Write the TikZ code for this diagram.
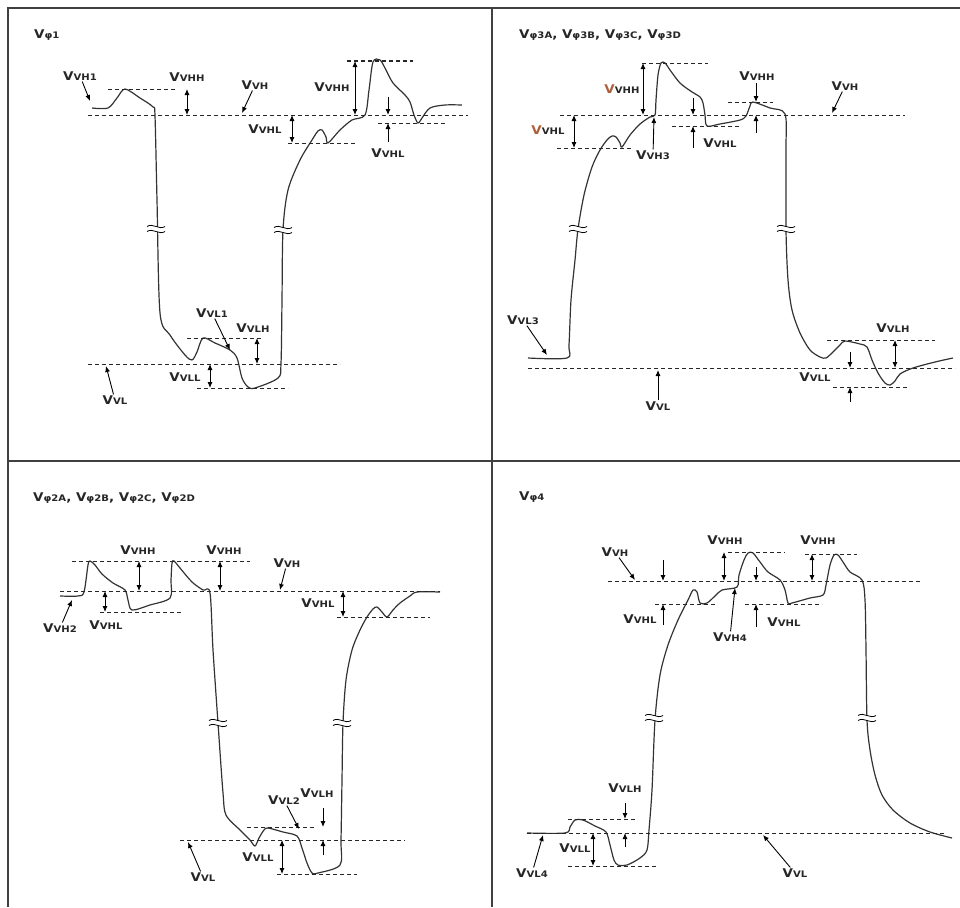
\documentclass[tikz,border=0pt]{standalone}
\usepackage{fontspec}
\setmainfont{DejaVu Sans}[FakeStretch=1.12]
\usetikzlibrary{arrows.meta}
\definecolor{brn}{RGB}{175,95,60}
\newcommand{\vsub}[1]{V{\fontsize{9}{9}\selectfont #1}}
\newcommand{\vsubb}[1]{\textcolor{brn}{V}{\fontsize{9}{9}\selectfont #1}}

\begin{document}
\begin{tikzpicture}[x=1pt,y=-1pt,
    wave/.style={line width=1.2pt,black!80,line join=round},
    lvl/.style={black!85,line width=1pt,dash pattern=on 4pt off 3pt},
    dim/.style={<->,>={Latex[length=6pt,width=5pt]},line width=0.9pt},
    ptr/.style={->,>={Latex[length=6pt,width=5pt]},line width=0.9pt},
    lab/.style={inner sep=1pt,font=\bfseries\fontsize{12}{12}\selectfont,black!85},
    ttl/.style={lab,anchor=west},
    brk/.pic={
      \fill[white] (-10,-2.5) rectangle (10,2.5);
      \draw[line width=0.8pt] (-9,-2.5) .. controls (-3,-6.5) and (3,1.5) .. (9,-2.5);
      \draw[line width=0.8pt] (-9,2.5) .. controls (-3,-1.5) and (3,6.5) .. (9,2.5);
    }]
  \useasboundingbox (0,0) rectangle (960,907);
  % frame
  \draw[line width=1.2pt,black!75] (8,907) -- (8,8) -- (960,8);
  \draw[line width=1.2pt,black!75] (492,8) -- (492,907);
  \draw[line width=1.2pt,black!75] (8,461) -- (960,461);

  % ---- V phi 1
  \node[ttl] (t1) at (33,35) {\vsub{φ1}};
  \draw[wave] plot[smooth,tension=0.5] coordinates {(92,108) (108,108) (117,98) (125,89)
    (140,98) (153,107) (155,116) (157,200) (160,313) (170,335) (185,355) (192,360)
    (197,352) (203,338) (215,343) (230,350) (237,358) (242,378) (248,387) (255,388)
    (278,378) (281,363) (282,300) (283,230) (288,190) (300,160) (312,140) (318,131)
    (322,130) (326,137) (328,143) (340,130) (352,120) (365,115) (369,90) (373,62)
    (380,60) (386,70) (393,83) (405,95) (410,102) (414,115) (418,123) (422,118)
    (430,108) (445,105) (462,105)};
  \pic at (156,229) {brk};
  \pic at (283,230) {brk};
  \draw[lvl] (108,89) -- (177,89);
  \draw[lvl] (88,115) -- (468,115);
  \draw[lvl] (288,143) -- (357,143);
  \draw[lvl] (347,61) -- (413,61);
  \draw[lvl] (378,123) -- (445,123);
  \draw[lvl] (187,338) -- (263,338);
  \draw[lvl] (88,364) -- (340,364);
  \draw[lvl] (197,388) -- (288,388);
  \draw[dim] (187,89) -- (187,115);
  \draw[dim] (292,115) -- (292,143);
  \draw[dim] (355,61) -- (355,115);
  \draw[ptr] (388,97) -- (388,115);
  \draw[ptr] (388,142) -- (388,123);
  \draw[dim] (257,338) -- (257,364);
  \draw[dim] (210,364) -- (210,388);
  \node[lab] (q1vh1) at (80,76) {\vsub{VH1}};
  \node[lab] (q1vhh) at (187,77) {\vsub{VHH}};
  \node[lab] (q1vh) at (255,85) {\vsub{VH}};
  \node[lab] (q1vhl) at (265,129) {\vsub{VHL}};
  \node[lab] (q1vhhb) at (332,87) {\vsub{VHH}};
  \node[lab] (q1vhlb) at (388,153) {\vsub{VHL}};
  \node[lab] (q1vl1) at (212,313) {\vsub{VL1}};
  \node[lab] (q1vlh) at (253,328) {\vsub{VLH}};
  \node[lab] (q1vll) at (185,377) {\vsub{VLL}};
  \node[lab] (q1vl) at (115,400) {\vsub{VL}};
  \draw[ptr] (q1vh1) -- (90,101);
  \draw[ptr] (q1vh) -- (242,113);
  \draw[ptr] (q1vl1) -- (230,350);
  \draw[ptr] (q1vl) -- (106,366);

  % ---- V phi 3
  \node[ttl] (t2) at (518,35) {\vsub{φ3A}, \vsub{φ3B}, \vsub{φ3C}, \vsub{φ3D}};
  \draw[wave] plot[smooth,tension=0.5] coordinates {(528,358) (567,358) (569,345)
    (571,300) (575,260) (578,229) (584,195) (592,167) (600,150) (607,140) (612,136)
    (616,137) (620,143) (622,147) (630,135) (640,124) (650,117) (655,115) (656,100)
    (658,75) (661,63) (665,63) (670,70) (680,83) (692,92) (700,97) (703,103) (705,115)
    (707,126) (720,124) (740,120) (746,116) (750,106) (753,102) (770,108) (785,114)
    (786,150) (786,230) (788,280) (792,310) (800,333) (810,350) (820,357) (826,358)
    (833,352) (840,345) (845,341) (860,344) (867,347) (872,360) (878,373) (885,383)
    (890,385) (895,381) (900,374) (913,368) (935,362) (953,358)};
  \pic at (578,229) {brk};
  \pic at (786,229) {brk};
  \draw[lvl] (642,63) -- (708,63);
  \draw[lvl] (560,115) -- (905,115);
  \draw[lvl] (557,148) -- (632,148);
  \draw[lvl] (672,126) -- (740,126);
  \draw[lvl] (728,102) -- (773,102);
  \draw[lvl] (827,340) -- (935,340);
  \draw[lvl] (528,368) -- (955,368);
  \draw[lvl] (833,387) -- (907,387);
  \draw[dim] (643,63) -- (643,115);
  \draw[dim] (574,115) -- (574,148);
  \draw[ptr] (693,98) -- (693,115);
  \draw[ptr] (693,148) -- (693,126);
  \draw[ptr] (756,83) -- (756,102);
  \draw[ptr] (756,133) -- (756,115);
  \draw[dim] (895,340) -- (895,368);
  \draw[ptr] (850,352) -- (850,368);
  \draw[ptr] (850,402) -- (850,387);
  \node[lab] (q2vhh) at (622,89) {\vsubb{VHH}};
  \node[lab] (q2vhl) at (548,130) {\vsubb{VHL}};
  \node[lab] (q2vh3) at (653,155) {\vsub{VH3}};
  \node[lab] (q2vhlb) at (720,143) {\vsub{VHL}};
  \node[lab] (q2vhhb) at (757,76) {\vsub{VHH}};
  \node[lab] (q2vh) at (845,86) {\vsub{VH}};
  \node[lab] (q2vl3) at (523,320) {\vsub{VL3}};
  \node[lab] (q2vl) at (658,406) {\vsub{VL}};
  \node[lab] (q2vlh) at (893,328) {\vsub{VLH}};
  \node[lab] (q2vll) at (815,377) {\vsub{VLL}};
  \draw[ptr] (q2vh3) -- (654,117);
  \draw[ptr] (q2vh) -- (832,113);
  \draw[ptr] (q2vl3) -- (547,355);
  \draw[ptr] (q2vl) -- (658,370);

  % ---- V phi 2
  \node[ttl] (t3) at (32,498) {\vsub{φ2A}, \vsub{φ2B}, \vsub{φ2C}, \vsub{φ2D}};
  \draw[wave] plot[smooth,tension=0.5] coordinates {(60,596) (78,596) (84,592) (88,565)
    (90,561) (95,565) (102,574) (113,583) (125,590) (128,600) (132,610) (150,605)
    (170,598) (171,580) (172,563) (174,561) (180,568) (192,582) (203,590) (210,593)
    (213,650) (218,723) (223,793) (226,815) (240,830) (250,840) (255,846) (259,838)
    (264,830) (268,828) (283,832) (297,836) (302,848) (307,863) (312,873) (318,873)
    (340,865) (341,840) (342,780) (343,723) (346,680) (352,650) (360,630) (367,617)
    (373,609) (377,607) (382,612) (387,617) (393,610) (400,603) (410,596) (417,592)
    (440,592)};
  \pic at (218,723) {brk};
  \pic at (342,723) {brk};
  \draw[lvl] (72,561) -- (250,561);
  \draw[lvl] (60,591) -- (440,591);
  \draw[lvl] (100,612) -- (182,612);
  \draw[lvl] (337,617) -- (430,617);
  \draw[lvl] (247,827) -- (315,827);
  \draw[lvl] (180,840) -- (405,840);
  \draw[lvl] (277,874) -- (357,874);
  \draw[dim] (139,561) -- (139,591);
  \draw[dim] (220,561) -- (220,591);
  \draw[dim] (105,591) -- (105,612);
  \draw[dim] (343,591) -- (343,617);
  \draw[ptr] (323,808) -- (323,827);
  \draw[ptr] (323,855) -- (323,840);
  \draw[dim] (282,840) -- (282,874);
  \node[lab] (q3vhha) at (138,550) {\vsub{VHH}};
  \node[lab] (q3vhhb) at (224,550) {\vsub{VHH}};
  \node[lab] (q3vh) at (287,563) {\vsub{VH}};
  \node[lab] (q3vhl) at (106,625) {\vsub{VHL}};
  \node[lab] (q3vh2) at (60,628) {\vsub{VH2}};
  \node[lab] (q3vhlb) at (318,603) {\vsub{VHL}};
  \node[lab] (q3vl2) at (284,800) {\vsub{VL2}};
  \node[lab] (q3vlh) at (317,793) {\vsub{VLH}};
  \node[lab] (q3vll) at (258,857) {\vsub{VLL}};
  \node[lab] (q3vl) at (203,877) {\vsub{VL}};
  \draw[ptr] (q3vh) -- (280,590);
  \draw[ptr] (q3vh2) -- (72,600);
  \draw[ptr] (q3vl2) -- (299,829);
  \draw[ptr] (q3vl) -- (188,842);

  % ---- V phi 4
  \node[ttl] (t4) at (518,497) {\vsub{φ4}};
  \draw[wave] plot[smooth,tension=0.5] coordinates {(527,833) (565,833) (570,827)
    (575,820) (583,820) (595,826) (606,832) (610,845) (614,860) (618,865) (627,865)
    (640,858) (647,850) (649,830) (652,790) (655,720) (660,675) (668,645) (678,620)
    (688,600) (693,590) (697,592) (700,603) (707,603) (715,596) (722,590) (737,587)
    (739,575) (744,560) (748,553) (753,553) (760,562) (768,572) (780,580) (785,590)
    (788,603) (792,603) (810,598) (823,595) (826,585) (830,565) (834,555) (838,555)
    (843,562) (850,572) (862,580) (865,600) (866,650) (867,720) (870,750) (875,775)
    (882,795) (893,810) (910,823) (930,832) (952,838)};
  \pic at (654,718) {brk};
  \pic at (867,718) {brk};
  \draw[lvl] (728,552) -- (785,552);
  \draw[lvl] (805,554) -- (857,554);
  \draw[lvl] (608,581) -- (920,581);
  \draw[lvl] (655,604) -- (715,604);
  \draw[lvl] (745,604) -- (822,604);
  \draw[lvl] (568,819) -- (637,819);
  \draw[lvl] (527,833) -- (945,833);
  \draw[lvl] (568,866) -- (658,866);
  \draw[ptr] (663,560) -- (663,581);
  \draw[ptr] (663,625) -- (663,604);
  \draw[dim] (724,552) -- (724,581);
  \draw[dim] (812,554) -- (812,581);
  \draw[ptr] (756,567) -- (756,581);
  \draw[ptr] (756,627) -- (756,604);
  \draw[ptr] (625,803) -- (625,819);
  \draw[ptr] (625,847) -- (625,833);
  \draw[dim] (593,833) -- (593,866);
  \node[lab] (q4vh) at (615,552) {\vsub{VH}};
  \node[lab] (q4vhl) at (640,619) {\vsub{VHL}};
  \node[lab] (q4vhha) at (725,540) {\vsub{VHH}};
  \node[lab] (q4vhhb) at (818,540) {\vsub{VHH}};
  \node[lab] (q4vh4) at (730,637) {\vsub{VH4}};
  \node[lab] (q4vhlb) at (784,622) {\vsub{VHL}};
  \node[lab] (q4vlh) at (625,788) {\vsub{VLH}};
  \node[lab] (q4vll) at (575,848) {\vsub{VLL}};
  \node[lab] (q4vl4) at (532,873) {\vsub{VL4}};
  \node[lab] (q4vl) at (795,873) {\vsub{VL}};
  \draw[ptr] (q4vh) -- (635,580);
  \draw[ptr] (q4vh4) -- (735,588);
  \draw[ptr] (q4vl4) -- (543,835);
  \draw[ptr] (q4vl) -- (763,835);
\end{tikzpicture}
\end{document}
